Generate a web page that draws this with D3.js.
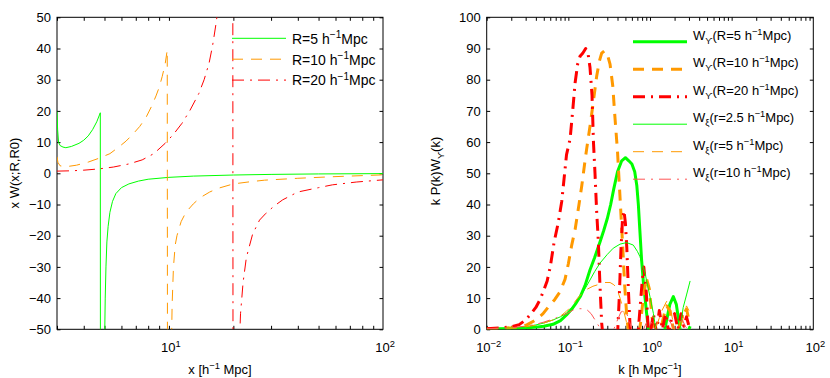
<!DOCTYPE html>
<html>
<head>
<meta charset="utf-8">
<script src="https://cdn.jsdelivr.net/npm/d3@7"></script>
<style>
  body { margin: 0; background: #fff; }
  svg text { font-family: "Liberation Sans", Arial, Helvetica, sans-serif; fill: #000; }
</style>
</head>
<body>
<svg class="chart" width="830" height="378"></svg>
<script>
//
// Two panels: x W(x;R,R0) against x (left), k P(k) W(k) against k (right).
//

// ---- left panel data: [x, y] ----
var leftR5 = [[3.0, 19.8], [3.02, 14], [3.05, 10], [3.1, 8.9], [3.2, 8.4], [3.3, 8.2], [3.5, 8.6], [3.8, 9.6], [4.0, 10.6], [4.2, 12.0], [4.4, 14.0], [4.6, 16.5], [4.78, 19.4],
    [4.8, -300], [4.98, -65], [5.04, -40], [5.08, -30], [5.13, -22], [5.2, -17], [5.3, -12.5], [5.45, -9], [5.65, -6.5], [6.0, -4.6], [6.5, -3.4], [7.2, -2.5], [8.0, -1.9], [10, -1.3], [13, -0.9], [20, -0.55], [30, -0.35], [50, -0.2], [100, -0.1]];
var leftR10 = [[3.0, 5.3], [3.03, 3.5], [3.1, 2.4], [3.3, 2.1], [3.7, 2.6], [4.2, 3.6], [4.7, 4.8], [5.3, 6.3], [5.8, 8.3], [6.3, 10.3], [6.8, 12.6], [7.3, 15], [7.8, 17.8], [8.3, 21.5], [8.7, 24.8], [9.0, 27.5], [9.3, 31], [9.6, 35], [9.82, 39.5],
    [9.9, -300], [10.25, -60], [10.35, -42], [10.5, -30], [10.7, -23], [10.9, -20], [11.4, -15.5], [12, -12.5], [13, -9.8], [14, -7.8], [15.5, -6], [17, -4.8], [20, -3.4], [24, -2.7], [28, -2.2], [40, -1.6], [58, -1.1], [100, -0.5]];
var leftR20 = [[3.0, 0.7], [3.5, 0.8], [4.0, 1.0], [4.7, 1.4], [5.5, 2.0], [6.5, 3.0], [7.5, 4.3], [8.5, 6.3], [9.6, 9.6], [10.5, 12.5], [11.5, 16], [12.5, 20], [13.8, 25.6], [14.6, 30], [15.4, 35.3], [16.0, 41], [16.6, 48], [17.2, 56], [19.8, 300],
    [20.0, -300], [21.2, -60], [21.6, -45], [22.2, -35], [23, -27], [24.6, -19.5], [26.5, -15], [28.4, -12.8], [31, -10.5], [34, -8.5], [40, -6], [50, -4.6], [58, -3.7], [75, -2.8], [100, -2.1]];

// ---- right panel data: k values and k P(k) W(k) ----
var kUpsR5 = [0.01, 0.015, 0.02, 0.03, 0.04, 0.05, 0.065, 0.08, 0.095, 0.11, 0.125, 0.14, 0.16, 0.184, 0.21, 0.244, 0.27, 0.3, 0.33, 0.36, 0.40, 0.45, 0.50, 0.55, 0.60, 0.65, 0.69, 0.72, 0.75, 0.79, 0.83, 0.87, 0.91, 0.95, 1.0, 1.1, 1.2, 1.35, 1.5, 1.6, 1.75, 1.93, 2.1, 2.3, 2.5, 2.7, 2.9, 3.1];
var wUpsR5 = [0.1, 0.15, 0.2, 0.4, 0.7, 1.0, 1.6, 2.8, 4.6, 6.5, 8.5, 10.5, 14, 19, 23, 28, 31.5, 35.5, 40, 45, 50.5, 54, 55, 54, 53, 50.5, 46, 40, 32, 22, 15, 10, 5, 0.8, -4, -8, -9, -6, -1, 3, 8, 10.5, 8, 1, -4, -3, -1, 1];

var kUpsR10 = [0.01, 0.015, 0.02, 0.025, 0.031, 0.04, 0.049, 0.057, 0.068, 0.079, 0.091, 0.1, 0.11, 0.121, 0.135, 0.146, 0.16, 0.168, 0.184, 0.2, 0.222, 0.24, 0.256, 0.275, 0.289, 0.305, 0.324, 0.35, 0.372, 0.40, 0.43, 0.46, 0.49, 0.52, 0.55, 0.6, 0.68, 0.75, 0.82, 0.9, 0.98, 1.05, 1.12, 1.2, 1.35, 1.5, 1.6, 1.75, 1.9, 2.1, 2.3, 2.55, 2.8, 3.0];
var wUpsR10 = [0.2, 0.3, 0.5, 0.8, 1.4, 3, 5, 7.2, 9.5, 12, 16, 21, 27, 32, 40, 46, 54, 58, 65, 72, 81, 86, 88.5, 89.2, 89, 87.5, 85, 78, 68, 57, 42, 28, 14, 4, -2, -5, -4, 0, 9, 16.5, 13, 5, -2, -3, 0, 5, 7.5, 6, 1, -2, 1, 4.5, 6.5, 3];

var kUpsR20 = [0.01, 0.015, 0.02, 0.025, 0.03, 0.034, 0.04, 0.045, 0.05, 0.055, 0.06, 0.067, 0.075, 0.083, 0.095, 0.105, 0.113, 0.121, 0.13, 0.139, 0.15, 0.163, 0.175, 0.184, 0.195, 0.203, 0.212, 0.222, 0.233, 0.244, 0.256, 0.27, 0.31, 0.35, 0.40, 0.42, 0.44, 0.46, 0.48, 0.50, 0.52, 0.545, 0.57, 0.6, 0.66, 0.72, 0.8, 0.84, 0.9, 0.95, 1.0, 1.1, 1.2, 1.3, 1.42, 1.55, 1.7, 1.85, 2.0, 2.2, 2.4, 2.6, 2.8, 3.0];
var wUpsR20 = [0.2, 0.5, 0.8, 1.5, 3, 4.6, 7, 9.5, 12.5, 15.5, 20, 28, 34, 41, 56, 61, 70, 79, 85, 87.5, 88.5, 90, 88, 84, 75, 60, 50, 38, 28, 14, 2, -4, -8, -6, -2, 10, 25, 35, 38, 34, 26, 12, 1, -5, -4, 0, 15, 20, 12, 0, -2, 5, -1, 6, 0, 5, -1, 4, 5, 0, 5, 1, 4, 1];

var kXiR25 = [0.01, 0.02, 0.03, 0.04, 0.05, 0.065, 0.08, 0.095, 0.11, 0.125, 0.139, 0.16, 0.184, 0.21, 0.244, 0.3, 0.355, 0.43, 0.517, 0.624, 0.7, 0.753, 0.87, 1.0, 1.1, 1.18, 1.3, 1.5, 1.7, 1.9, 2.1, 2.35, 2.55, 2.8, 3.1];
var wXiR25 = [0.2, 0.4, 0.8, 1.4, 2.0, 3.0, 4.0, 5.2, 6.8, 8.4, 10.4, 13, 15.8, 18.5, 21.2, 24, 26, 27.3, 27.8, 27, 25, 23.3, 18, 10.4, 5.1, 0, -5, -8, -7, -4, -1, 0.5, 7, 11, 15.5];

var kXiR5 = [0.01, 0.02, 0.03, 0.04, 0.05, 0.065, 0.08, 0.095, 0.11, 0.13, 0.16, 0.2, 0.244, 0.28, 0.324, 0.36, 0.39, 0.43, 0.48, 0.53, 0.58, 0.7, 0.85, 1.0, 1.2, 1.4, 1.6, 1.8, 2.0, 2.2, 2.4, 2.6, 2.8, 3.0];
var wXiR5 = [0.2, 0.4, 0.8, 1.3, 2.0, 3.0, 4.2, 5.8, 7.5, 10, 12.5, 13.8, 14.5, 15, 15, 14.3, 13.2, 10, 5.5, 1, -2, -4, -3, -1, 1, 6, 9, 6, 0, -2, 1, 5, 7.5, 6];

var kXiR10 = [0.01, 0.02, 0.03, 0.04, 0.05, 0.06, 0.07, 0.08, 0.09, 0.1, 0.115, 0.13, 0.15, 0.17, 0.19, 0.21, 0.23, 0.25, 0.28, 0.32, 0.36, 0.4, 0.44, 0.48, 0.52, 0.56, 0.6, 0.7, 0.8, 0.9, 1.0, 1.15, 1.3, 1.5, 1.7, 1.9, 2.1, 2.3, 2.5, 2.7, 2.9, 3.1];
var wXiR10 = [0.2, 0.5, 1.0, 1.6, 2.3, 3.0, 3.6, 4.2, 4.7, 5.3, 6.2, 6.6, 6.6, 6.2, 5.0, 3.2, 1.5, 0, -2, -2, 0, 3, 5.5, 6, 5, 2.5, 0, -3, -1, 2, 3, 0, -2, 1, 3, 1, -1, 2, 3, 1, 0, 1];

// ---- ticks and labels ----
var leftYTicks = d3.range(-50, 51, 10);
var leftXMajor = [10, 100];
var rightYTicks = d3.range(0, 101, 10);
var rightXMajor = [0.01, 0.1, 1, 10, 100];

var GREEN = "#00ff00", ORANGE = "#ff9900", RED = "#ff0000";
var DASH = "11,8", DASHDOT = "12,6,2,6";
var FS = 13;

function minorTicks (lo, hi) { // 1..9 times each decade between lo and hi
    var out = [];
    for (var d = Math.floor(Math.log10(lo)); d < Math.ceil(Math.log10(hi)); d++) {
        for (var m = 1; m <= 9; m++) {
            var v = m * Math.pow(10, d);
            if (v >= lo - 1e-9 && v <= hi + 1e-9) out.push(v);
        }
    }
    return out;
}

function richText (sel, parts, size) { // text with sub/superscripts as tspans
    var shift = 0;
    parts.forEach(function (p) {
        var target = p.sup ? -0.4 * size : p.sub ? 0.3 * size : 0;
        sel.append("tspan")
            .attr("dy", target - shift)
            .attr("font-size", (p.sup || p.sub) ? size * 0.72 : size)
            .text(p.t);
        shift = target;
    });
    return sel;
}

var svg = d3.select("svg.chart");

function drawFrame (x, y, xTicks, yTicks, id) {
    var x0 = x.range()[0], x1 = x.range()[1], y0 = y.range()[1], y1 = y.range()[0];
    var g = svg.append("g");
    svg.append("clipPath").attr("id", id).append("rect")
        .attr("x", x0).attr("y", y0).attr("width", x1 - x0).attr("height", y1 - y0);

    var allX = minorTicks(x.domain()[0], x.domain()[1]);
    g.append("g").attr("transform", "translate(0," + y1 + ")")
        .call(d3.axisBottom(x).tickValues(allX).tickSize(-3.5).tickSizeOuter(0).tickFormat(""));
    g.append("g").attr("transform", "translate(0," + y0 + ")")
        .call(d3.axisTop(x).tickValues(allX).tickSize(-3.5).tickSizeOuter(0).tickFormat(""));
    g.append("g").attr("transform", "translate(" + x0 + ",0)")
        .call(d3.axisLeft(y).tickValues(yTicks).tickSize(-3.5).tickSizeOuter(0).tickPadding(6));
    g.append("g").attr("transform", "translate(" + x1 + ",0)")
        .call(d3.axisRight(y).tickValues(yTicks).tickSize(-3.5).tickSizeOuter(0).tickFormat(""));
    g.selectAll(".tick line").attr("stroke", "#000");
    g.selectAll(".domain").remove();
    g.selectAll(".tick text").attr("font-size", FS).attr("font-family", null);

    g.append("rect").attr("x", x0).attr("y", y0).attr("width", x1 - x0).attr("height", y1 - y0)
        .attr("fill", "none").attr("stroke", "#000").attr("stroke-width", 1);

    xTicks.forEach(function (v) { // log labels 10^n
        var e = Math.round(Math.log10(v));
        var t = g.append("text").attr("x", x(v) + 2).attr("y", y1 + 23).attr("text-anchor", "middle");
        richText(t, [{ t: "10" }, { t: (e < 0 ? "\u2212" : "") + Math.abs(e), sup: true }], FS);
    });
    return g;
}

function drawLine (x, y, pts, clipId, color, width, dash) {
    svg.append("path")
        .datum(pts)
        .attr("clip-path", "url(#" + clipId + ")")
        .attr("fill", "none")
        .attr("stroke", color)
        .attr("stroke-width", width)
        .attr("stroke-dasharray", dash)
        .attr("stroke-linejoin", "round")
        .attr("d", d3.line().x(function (d) { return x(d[0]); }).y(function (d) { return y(d[1]); }));
}

function zipK (k, w) { return k.map(function (v, i) { return [v, w[i]]; }); }

// ---- left panel ----
var xL = d3.scaleLog().domain([3, 100]).range([57, 383]);
var yL = d3.scaleLinear().domain([-50, 50]).range([329.3, 17.3]);
drawFrame(xL, yL, leftXMajor, leftYTicks, "clipL");
drawLine(xL, yL, leftR5, "clipL", GREEN, 1, null);
drawLine(xL, yL, leftR10, "clipL", ORANGE, 1, DASH);
drawLine(xL, yL, leftR20, "clipL", RED, 1, DASHDOT);

richText(svg.append("text").attr("x", 220).attr("y", 374).attr("text-anchor", "middle"),
    [{ t: "x [h" }, { t: "\u22121", sup: true }, { t: " Mpc]" }], FS);
svg.append("text").attr("transform", "translate(18.5,173) rotate(-90)").attr("text-anchor", "middle")
    .attr("font-size", FS).text("x W(x;R,R0)");

var leftLegend = [
    { label: "5", color: GREEN, dash: null },
    { label: "10", color: ORANGE, dash: DASH },
    { label: "20", color: RED, dash: DASHDOT }
];
leftLegend.forEach(function (d, i) {
    var ly = 38.3 + i * 20.9;
    svg.append("line").attr("x1", 232).attr("x2", 286).attr("y1", ly).attr("y2", ly)
        .attr("stroke", d.color).attr("stroke-width", 1).attr("stroke-dasharray", d.dash);
    richText(svg.append("text").attr("x", 292).attr("y", ly + 5.3),
        [{ t: "R=" + d.label + " h" }, { t: "\u22121", sup: true }, { t: "Mpc" }], 14);
});

// ---- right panel ----
var xR = d3.scaleLog().domain([0.01, 100]).range([486.7, 813.3]);
var yR = d3.scaleLinear().domain([0, 100]).range([329.3, 17.3]);
drawFrame(xR, yR, rightXMajor, rightYTicks, "clipR");

var rightSeries = [
    { k: kUpsR5, w: wUpsR5, color: GREEN, width: 3, dash: null, sub: "\u03d2", txt: "(R=5 h" },
    { k: kUpsR10, w: wUpsR10, color: ORANGE, width: 3, dash: DASH, sub: "\u03d2", txt: "(R=10 h" },
    { k: kUpsR20, w: wUpsR20, color: RED, width: 3, dash: DASHDOT, sub: "\u03d2", txt: "(R=20 h" },
    { k: kXiR25, w: wXiR25, color: GREEN, width: 1, dash: null, sub: "\u03be", txt: "(r=2.5 h" },
    { k: kXiR5, w: wXiR5, color: ORANGE, width: 1, dash: DASH, sub: "\u03be", txt: "(r=5 h" },
    { k: kXiR10, w: wXiR10, color: "#ff5555", width: 1, dash: DASHDOT, sub: "\u03be", txt: "(r=10 h" }
];
rightSeries.forEach(function (s, i) {
    drawLine(xR, yR, zipK(s.k, s.w), "clipR", s.color, s.width, s.dash);
    var ly = 41.7 + i * 27.5;
    svg.append("line").attr("x1", 633).attr("x2", 687).attr("y1", ly).attr("y2", ly)
        .attr("stroke", s.color).attr("stroke-width", s.width).attr("stroke-dasharray", s.dash);
    richText(svg.append("text").attr("x", 693).attr("y", ly - 2),
        [{ t: "W" }, { t: s.sub, sub: true }, { t: s.txt }, { t: "\u22121", sup: true }, { t: "Mpc)" }], FS);
});

richText(svg.append("text").attr("x", 650).attr("y", 374).attr("text-anchor", "middle"),
    [{ t: "k [h Mpc" }, { t: "\u22121", sup: true }, { t: "]" }], FS);
richText(svg.append("text").attr("transform", "translate(440,171) rotate(-90)").attr("text-anchor", "middle"),
    [{ t: "k P(k)W" }, { t: "\u03d2", sub: true }, { t: "(k)" }], FS);
</script>
</body>
</html>
